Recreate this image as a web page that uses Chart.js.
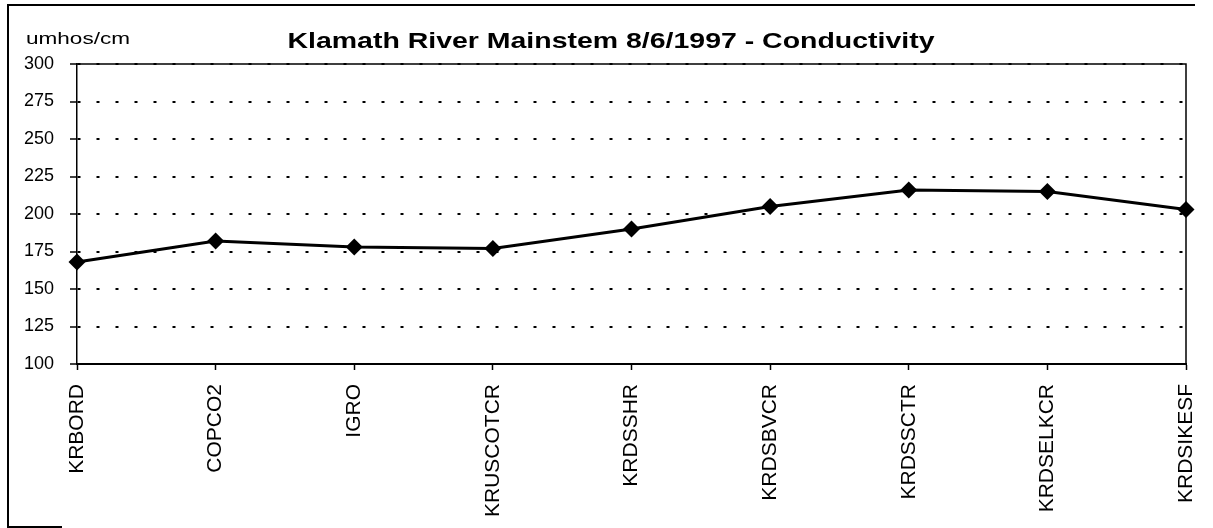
<!DOCTYPE html>
<html>
<head>
<meta charset="utf-8">
<script src="https://cdn.jsdelivr.net/npm/chart.js@4"></script>
<style>
  html, body { margin: 0; padding: 0; background: #fff; }
  canvas { display: block; }
</style>
</head>
<body>
<canvas id="c" width="1213" height="528"></canvas>
<script>
// Sampling stations along the Klamath River mainstem, upstream to downstream
const stations = ['KRBORD', 'COPCO2', 'IGRO', 'KRUSCOTCR', 'KRDSSHR', 'KRDSBVCR', 'KRDSSCTR', 'KRDSELKCR', 'KRDSIKESF'];
// Conductivity (umhos/cm) measured 8/6/1997
const conductivity = [168, 182, 178, 177, 190, 205, 216, 215, 203];
// Value axis range and step
const yMin = 100;
const yMax = 300;
const yStep = 25;

const chartTitle = 'Klamath River Mainstem 8/6/1997 - Conductivity';
const unitLabel = 'umhos/cm';
const FONT = '"Liberation Sans", Arial, sans-serif';

// Draws a text line stretched horizontally to a given width
function drawWideText(ctx, text, font, x, baseline, width, align) {
  ctx.save();
  ctx.font = font;
  const natural = ctx.measureText(text).width;
  ctx.translate(x, baseline);
  ctx.scale(width / natural, 1);
  ctx.textAlign = align;
  ctx.textBaseline = 'alphabetic';
  ctx.fillText(text, 0, 0);
  ctx.restore();
}

// Title, unit caption, plot-area box and the outer frame
const decorations = {
  id: 'decorations',
  afterDraw(chart) {
    const { ctx, chartArea: a } = chart;
    ctx.save();
    ctx.fillStyle = '#000';
    drawWideText(ctx, chartTitle, 'bold 22px ' + FONT, 611, 48, 647, 'center');
    drawWideText(ctx, unitLabel, '17px ' + FONT, 26, 44, 104, 'left');

    // plot area outline (top and right edges)
    ctx.strokeStyle = '#000';
    ctx.lineWidth = 1.5;
    ctx.beginPath();
    ctx.moveTo(a.left, a.top);
    ctx.lineTo(a.right, a.top);
    ctx.lineTo(a.right, a.bottom);
    ctx.stroke();

    // outer frame
    ctx.lineWidth = 2;
    ctx.beginPath();
    ctx.moveTo(1195, 5);
    ctx.lineTo(8, 5);
    ctx.lineTo(8, 527);
    ctx.lineTo(62, 527);
    ctx.stroke();
    ctx.restore();
  }
};

new Chart(document.getElementById('c'), {
  type: 'line',
  data: {
    labels: stations,
    datasets: [{
      data: conductivity,
      borderColor: '#000',
      backgroundColor: '#000',
      borderWidth: 3,
      tension: 0,
      pointStyle: 'rectRot',
      pointRadius: 8.5,
      pointBorderWidth: 0,
      pointBackgroundColor: '#000',
      clip: false
    }]
  },
  options: {
    responsive: false,
    animation: false,
    devicePixelRatio: 1,
    layout: { padding: { top: 64, right: 27, left: 0, bottom: 0 } },
    plugins: {
      legend: { display: false },
      title: { display: false },
      tooltip: { enabled: false }
    },
    scales: {
      x: {
        offset: false,
        afterFit(scale) {
          scale.height = 164;
          scale.paddingLeft = 0;
          scale.paddingRight = 0;
        },
        grid: {
          display: true,
          drawOnChartArea: false,
          drawTicks: true,
          tickLength: 6,
          tickColor: '#000',
          tickWidth: 1.5
        },
        border: { display: true, color: '#000', width: 2 },
        ticks: {
          color: '#000',
          font: { family: FONT, size: 21 },
          minRotation: 90,
          maxRotation: 90,
          padding: 14,
          autoSkip: false
        }
      },
      y: {
        min: yMin,
        max: yMax,
        afterFit(scale) { scale.width = 77; },
        grid: {
          display: true,
          drawOnChartArea: true,
          drawTicks: true,
          tickLength: 7,
          color: '#000',
          lineWidth: 2,
          tickColor: '#000',
          tickWidth: 1.5,
          tickBorderDash: []
        },
        border: { display: true, color: '#000', width: 1.5, dash: [3, 16] },
        ticks: {
          stepSize: yStep,
          color: '#000',
          font: { family: FONT, size: 18 },
          padding: 16
        }
      }
    }
  },
  plugins: [decorations]
});
</script>
</body>
</html>
